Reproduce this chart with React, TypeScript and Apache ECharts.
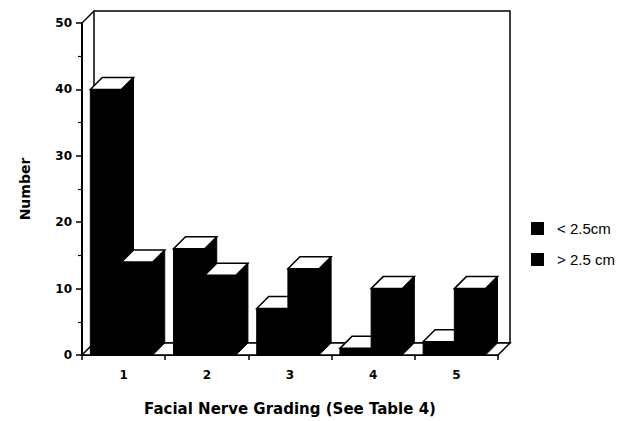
import React, { useEffect, useRef } from "react";
import * as echarts from "echarts";

const categories = ["1", "2", "3", "4", "5"];
const smallTumor = [40, 16, 7, 1, 2];
const largeTumor = [14, 12, 13, 10, 10];
const seriesNames = ["< 2.5cm", "> 2.5 cm"];
const yMin = 0;
const yMax = 50;
const yInterval = 10;
const xTitle = "Facial Nerve Grading (See Table 4)";
const yTitle = "Number";

const DEPTH = 12;

function barRenderer(slot: number) {
  return (params: any, api: any) => {
    const ci = api.value(0);
    const v = api.value(1);
    const base = api.coord([ci, 0]);
    const top = api.coord([ci, v]);
    const band = api.size([1, 0])[0];
    const w = band * 0.375;
    const x0 = base[0] - band / 2 + band * 0.1 + slot * w;
    const x1 = x0 + w;
    const yb = base[1];
    const yt = top[1];
    const D = DEPTH;
    return {
      type: "group",
      children: [
        {
          type: "polygon",
          shape: { points: [[x1, yb], [x1 + D, yb - D], [x1 + D, yt - D], [x1, yt]] },
          style: { fill: "#000", stroke: "#000", lineWidth: 1 },
        },
        {
          type: "rect",
          shape: { x: x0, y: yt, width: w, height: yb - yt },
          style: { fill: "#000", stroke: "#000", lineWidth: 1 },
        },
        {
          type: "polygon",
          shape: { points: [[x0, yt], [x1, yt], [x1 + D, yt - D], [x0 + D, yt - D]] },
          style: { fill: "#fff", stroke: "#000", lineWidth: 1.5 },
        },
      ],
    };
  };
}

function frameRenderer(params: any, api: any) {
  const band = api.size([1, 0])[0];
  const l = api.coord([0, yMin])[0] - band / 2;
  const r = api.coord([categories.length - 1, yMin])[0] + band / 2;
  const yb = api.coord([0, yMin])[1];
  const yt = api.coord([0, yMax])[1];
  const D = DEPTH;
  return {
    type: "group",
    children: [
      {
        type: "rect",
        shape: { x: l + D, y: yt - D, width: r - l, height: yb - yt },
        style: { fill: "#fff", stroke: "#000", lineWidth: 1.5 },
      },
      {
        type: "polygon",
        shape: { points: [[l, yb], [r, yb], [r + D, yb - D], [l + D, yb - D]] },
        style: { fill: "#fff", stroke: "#000", lineWidth: 1.5 },
      },
      {
        type: "line",
        shape: { x1: l, y1: yt, x2: l + D, y2: yt - D },
        style: { stroke: "#000", lineWidth: 1.5 },
      },
    ],
  };
}

export default function App() {
  const ref = useRef<HTMLDivElement>(null);
  useEffect(() => {
    document.body.style.margin = "0";
    const chart = echarts.init(ref.current!, undefined, { renderer: "svg" });
    chart.setOption({
      animation: false,
      backgroundColor: "#fff",
      grid: { left: 82, right: 140, top: 23, bottom: 64 },
      legend: {
        orient: "vertical",
        left: 526,
        top: 216,
        itemWidth: 13,
        itemHeight: 13,
        itemGap: 16,
        textStyle: {
          fontFamily: "Liberation Sans",
          fontSize: 15,
          color: "#000",
          padding: [0, 0, 0, 8],
        },
        data: seriesNames.map((n) => ({ name: n, icon: "rect", itemStyle: { color: "#000" } })),
      },
      xAxis: {
        type: "category",
        data: categories,
        name: xTitle,
        nameLocation: "middle",
        nameGap: 46,
        nameTextStyle: { fontFamily: "DejaVu Sans", fontWeight: "bold", fontSize: 15, color: "#000" },
        axisLine: { lineStyle: { color: "#000", width: 2 } },
        axisTick: { show: true, length: 5, lineStyle: { color: "#000", width: 1.5 } },
        axisLabel: { fontFamily: "DejaVu Sans", fontWeight: "bold", fontSize: 12, color: "#000", margin: 14 },
        splitLine: { show: false },
      },
      yAxis: {
        type: "value",
        min: yMin,
        max: yMax,
        interval: yInterval,
        name: yTitle,
        nameLocation: "middle",
        nameGap: 50,
        nameTextStyle: { fontFamily: "DejaVu Sans", fontWeight: "bold", fontSize: 14, color: "#000" },
        axisLine: { show: true, lineStyle: { color: "#000", width: 2 } },
        axisTick: { show: true, length: 6, lineStyle: { color: "#000", width: 1.5 } },
        minorTick: { show: true, splitNumber: 2, length: 4, lineStyle: { color: "#000", width: 1.2 } },
        axisLabel: { fontFamily: "DejaVu Sans", fontWeight: "bold", fontSize: 12, color: "#000", margin: 10 },
        splitLine: { show: false },
      },
      series: [
        {
          type: "custom",
          name: "frame",
          z: 1,
          clip: false,
          silent: true,
          renderItem: frameRenderer,
          data: [[0, yMax]],
        },
        {
          type: "custom",
          name: seriesNames[0],
          z: 2,
          clip: false,
          itemStyle: { color: "#000" },
          renderItem: barRenderer(0),
          data: smallTumor.map((v, i) => [i, v]),
        },
        {
          type: "custom",
          name: seriesNames[1],
          z: 3,
          clip: false,
          itemStyle: { color: "#000" },
          renderItem: barRenderer(1),
          data: largeTumor.map((v, i) => [i, v]),
        },
      ],
    });
    return () => chart.dispose();
  }, []);
  return <div ref={ref} style={{ width: 638, height: 421 }} />;
}
